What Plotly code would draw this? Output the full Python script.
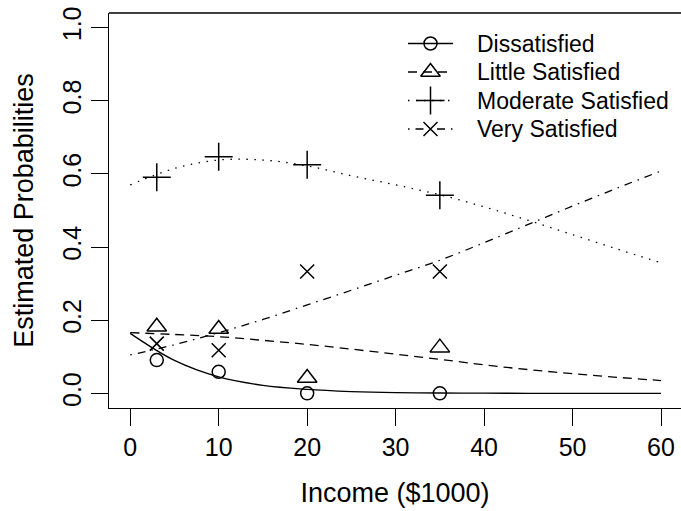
import plotly.graph_objects as go

# ---- data ----
income_pts = [3, 10, 20, 35]
obs_dissatisfied = [0.091, 0.059, 0.0, 0.0]
obs_little = [0.182, 0.176, 0.042, 0.125]
obs_moderate = [0.591, 0.647, 0.625, 0.542]
obs_very = [0.136, 0.118, 0.333, 0.333]

income_curve = [0, 5, 10, 15, 20, 25, 30, 35, 40, 45, 50, 55, 60]
fit_dissatisfied = [0.164, 0.090, 0.045, 0.022, 0.011, 0.005, 0.002, 0.001, 0.0005, 0.0002, 0.0001, 0.0, 0.0]
fit_little = [0.166, 0.161, 0.155, 0.145, 0.134, 0.121, 0.107, 0.093, 0.078, 0.065, 0.054, 0.044, 0.035]
fit_moderate = [0.570, 0.615, 0.638, 0.638, 0.622, 0.595, 0.570, 0.543, 0.510, 0.473, 0.434, 0.395, 0.357]
fit_very = [0.105, 0.133, 0.166, 0.202, 0.242, 0.282, 0.323, 0.364, 0.412, 0.462, 0.512, 0.561, 0.608]

series_names = ["Dissatisfied", "Little Satisfied", "Moderate Satisfied", "Very Satisfied"]
x_ticks = [0, 10, 20, 30, 40, 50, 60]
y_ticks = [0.0, 0.2, 0.4, 0.6, 0.8, 1.0]
y_ticklabels = ["0.0", "0.2", "0.4", "0.6", "0.8", "1.0"]

# ---- styles ----
FONT = "Liberation Sans, Arial, Helvetica, sans-serif"
FS_LEG = 23
FS_TICK = 25
FS_TITLE = 27
dashes = ["solid", "9px,6px", "1.5px,6.5px", "1.5px,6px,8px,6px"]
symbols = ["circle-open", "triangle-up-open", "cross-thin-open", "x-thin-open"]
msizes = [13, 17, 20, 14]

fits = [fit_dissatisfied, fit_little, fit_moderate, fit_very]
obs = [obs_dissatisfied, obs_little, obs_moderate, obs_very]

fig = go.Figure()
for i in range(4):
    fig.add_trace(go.Scatter(x=income_curve, y=fits[i], mode="lines",
                             line=dict(color="black", width=1.3, dash=dashes[i], shape="spline", smoothing=1.0),
                             showlegend=False, hoverinfo="skip"))
    fig.add_trace(go.Scatter(x=income_pts, y=obs[i], mode="markers",
                             marker=dict(symbol=symbols[i], size=msizes[i], color="black",
                                         line=dict(color="black", width=1.5)),
                             showlegend=False, cliponaxis=False))

# ---- manual legend on a pixel overlay axis ----
leg_rows = [43.5, 72, 100.5, 129]
for i in range(4):
    yy = leg_rows[i]
    fig.add_trace(go.Scatter(x=[408, 453], y=[yy, yy], mode="lines", xaxis="x2", yaxis="y2",
                             line=dict(color="black", width=1.3, dash=dashes[i]),
                             showlegend=False, hoverinfo="skip"))
    fig.add_trace(go.Scatter(x=[430.5], y=[yy], mode="markers", xaxis="x2", yaxis="y2",
                             marker=dict(symbol=symbols[i], size=msizes[i], color="black",
                                         line=dict(color="black", width=1.5)),
                             showlegend=False, hoverinfo="skip"))
    fig.add_annotation(x=475, y=yy, xref="x2", yref="y2", text=series_names[i],
                       showarrow=False, xanchor="left", yanchor="middle",
                       font=dict(family=FONT, size=FS_LEG, color="black"))

fig.update_layout(
    width=681, height=511,
    margin=dict(l=109, r=0, t=13, b=103),
    paper_bgcolor="white", plot_bgcolor="white",
    font=dict(family=FONT, size=FS_TICK, color="black"),
    showlegend=False,
    xaxis=dict(range=[-2.4, 62.26], tickvals=x_ticks, ticks="outside", ticklen=17,
               tickwidth=1.3, tickcolor="black", showgrid=False, zeroline=False,
               showline=True, linecolor="black", linewidth=1.3, automargin=False,
               tickfont=dict(family=FONT, size=FS_TICK),
               title=dict(text="Income ($1000)", font=dict(family=FONT, size=FS_TITLE), standoff=22)),
    yaxis=dict(range=[-0.04, 1.04], tickvals=y_ticks, ticktext=y_ticklabels, ticks="outside",
               ticklen=17, tickwidth=1.3, tickcolor="black", tickangle=-90,
               showgrid=False, zeroline=False, showline=True, linecolor="black", linewidth=1.3,
               automargin=False,
               tickfont=dict(family=FONT, size=FS_TICK),
               title=dict(text="Estimated Probabilities", font=dict(family=FONT, size=FS_TITLE), standoff=16)),
    xaxis2=dict(range=[109, 681], overlaying="x", visible=False, fixedrange=True),
    yaxis2=dict(range=[408, 13], overlaying="y", visible=False, fixedrange=True),
    shapes=[dict(type="line", xref="paper", yref="paper", x0=0, x1=1.02, y0=1, y1=1,
                 line=dict(color="black", width=1.3))],
)

fig.write_html("out.html", config={"displayModeBar": False},
               post_script="document.body.style.margin='0px';document.body.style.overflow='hidden';")
